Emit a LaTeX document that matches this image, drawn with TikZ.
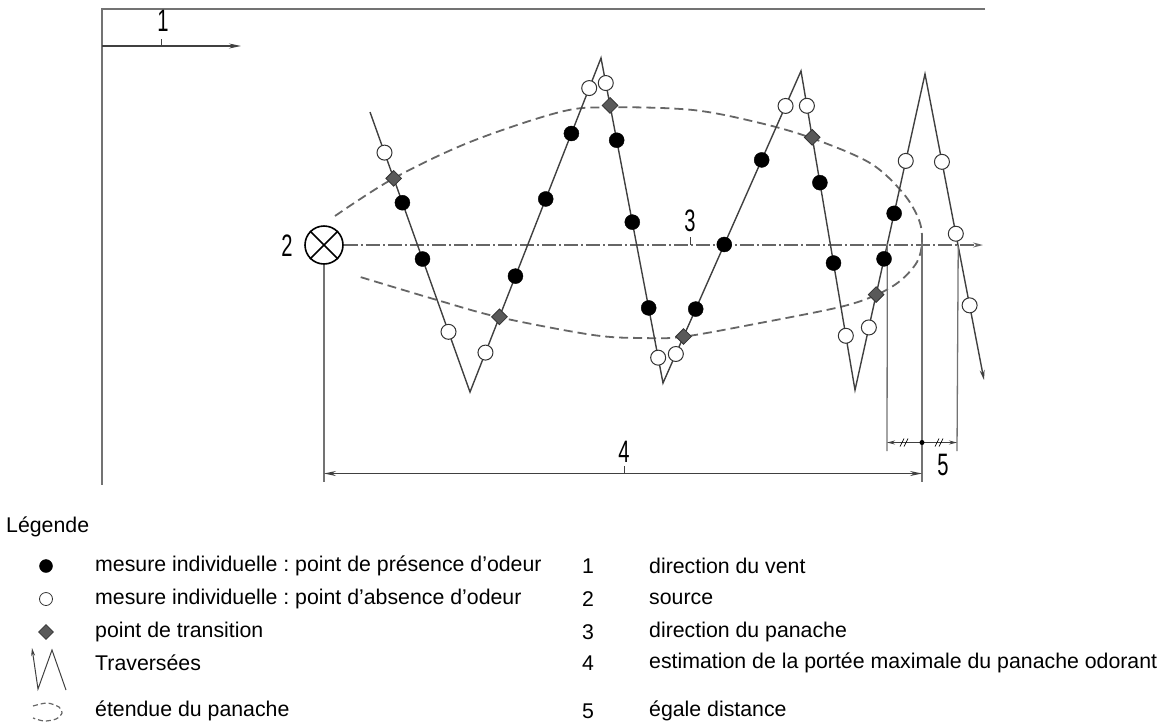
\documentclass[tikz,border=0pt]{standalone}
\usepackage{fontspec}
\setmainfont{Liberation Sans}
\usetikzlibrary{calc,shapes.geometric,arrows.meta}
\tikzset{
  odeur/.style={circle, fill=black, draw=black, inner sep=0pt, minimum size=15pt},
  sansodeur/.style={circle, fill=white, draw=black!80, line width=1pt, inner sep=0pt, minimum size=15pt},
  transit/.style={diamond, fill=black!65, draw=black!80, line width=0.8pt, inner sep=0pt, minimum size=16pt},
  repere/.style={font=\fontsize{31}{31}\selectfont, xscale=0.65, inner sep=0pt},
  legtxt/.style={font=\fontsize{21.3}{25}\selectfont, anchor=west, inner sep=0pt},
  cadre/.style={draw=black!55, line width=1.3pt},
  cote/.style={draw=black!75, line width=1.2pt},
  trav/.style={draw=black!75, line width=1.4pt},
  panache/.style={draw=black!60, line width=1.8pt, dash pattern=on 9pt off 5pt},
  axe/.style={draw=black!60, line width=1.4pt, dash pattern=on 14pt off 3pt on 2pt off 3pt},
}
\frenchspacing
\begin{document}
\begin{tikzpicture}[x=1pt, y=-1pt, >={Stealth[length=12pt,width=5pt]}]
  \useasboundingbox (0,0) rectangle (1164,724);

  % 1. cadre et direction du vent
  \coordinate (c0) at (102,9);
  \coordinate (c1) at (985,9);
  \coordinate (c2) at (102,485);
  \draw[cadre] (c1) -- (c0) -- (c2);
  \coordinate (v0) at (102,46);
  \coordinate (v1) at (241,46);
  \draw[cote, ->] (v0) -- (v1);
  \node[repere] (l1) at (163,21) {1};
  \draw[cote, line width=0.8pt] (161,39) -- (161,46);

  % 2. source et axe du panache
  \node[circle, draw=black, line width=1.6pt, minimum size=38pt, inner sep=0pt] (src) at (324,245) {};
  \draw[line width=1.6pt] (src.45) -- (src.225) (src.135) -- (src.-45);
  \node[repere] (l2) at (287,246) {2};
  \coordinate (a1) at (983,245);
  \draw[axe, -{Stealth[length=10pt,width=5pt]}] (src.east) -- (a1);
  \node[repere] (l3) at (690,221) {3};
  \draw[cote, line width=0.8pt] (690,237) -- (690,245);

  % 3. etendue du panache
  \draw[panache] plot[smooth, tension=0.55] coordinates {
    (335,216) (393.7,178.3) (470,142) (560,112) (610,107.3) (693,110) (760,123)
    (812.3,138.3) (870,163) (903,193) (919,220) (922,242) (917,262) (900,281)
    (876.1,295) (840,307) (760,323) (683.5,336.7) (643,338) (593,335)
    (499.5,317.3) (437,300) (357,276)};

  % 4. traversees
  \coordinate (zS) at (370,112);
  \coordinate (zB1) at (470,392);
  \coordinate (zT1) at (601,58);
  \coordinate (zB2) at (663,383);
  \coordinate (zT2) at (801,71);
  \coordinate (zB3) at (855,390);
  \coordinate (zT3) at (925,74);
  \coordinate (zE) at (984,380);
  \draw[trav, -{Stealth[length=10pt,width=5pt]}] (zS) -- (zB1) -- (zT1) -- (zB2) -- (zT2)
    -- (zB3) -- (zT3) -- (zE);

  % 5. cotes
  \coordinate (d1) at (324,482);
  \draw[cadre] (src.south) -- (d1);
  \coordinate (e1) at ($(zB3)!0.462!(zT3)$);
  \coordinate (e2) at (922,242);
  \coordinate (e3) at ($(zT3)!0.563!(zE)$);
  \draw[cadre] (e1) -- (887,451);
  \draw[cadre] (e2) -- (922,482);
  \draw[cadre] (e3) -- (957,451);
  \draw[cote, <->] (324,473.5) -- (922,473.5);
  \node[repere] (l4) at (624,452) {4};
  \draw[cote, line width=0.8pt] (624,466) -- (624,473.5);
  \coordinate (m5) at (922,442.5);
  \draw[cote, ->, >={Stealth[length=8pt,width=4pt]}] (m5) -- (887,442.5);
  \draw[cote, ->, >={Stealth[length=8pt,width=4pt]}] (m5) -- (957,442.5);
  \fill (m5) circle (2.5pt);
  \foreach \h in {902,906,937,941}
    \draw[line width=0.7pt] (\h-2,446.5) -- (\h+2,438.5);
  \node[repere] (l5) at (943,465) {5};

  % 6. mesures
  \foreach \a/\b/\t/\st [count=\i] in {
      zS/zB1/0.145/sansodeur, zS/zB1/0.324/odeur, zS/zB1/0.525/odeur, zS/zB1/0.785/sansodeur,
      zB1/zT1/0.118/sansodeur, zB1/zT1/0.347/odeur, zB1/zT1/0.578/odeur, zB1/zT1/0.774/odeur, zB1/zT1/0.910/sansodeur,
      zT1/zB2/0.077/sansodeur, zT1/zB2/0.253/odeur, zT1/zB2/0.505/odeur, zT1/zB2/0.769/odeur, zT1/zB2/0.922/sansodeur,
      zB2/zT2/0.093/sansodeur, zB2/zT2/0.237/odeur, zB2/zT2/0.444/odeur, zB2/zT2/0.715/odeur, zB2/zT2/0.888/sansodeur,
      zT2/zB3/0.109/sansodeur, zT2/zB3/0.350/odeur, zT2/zB3/0.602/odeur, zT2/zB3/0.830/sansodeur,
      zB3/zT3/0.198/sansodeur, zB3/zT3/0.415/odeur, zB3/zT3/0.559/odeur, zB3/zT3/0.725/sansodeur,
      zT3/zE/0.287/sansodeur, zT3/zE/0.522/sansodeur, zT3/zE/0.756/sansodeur}
    \node[\st] (p\i) at ($(\a)!\t!(\b)$) {};
  \foreach \a/\b/\t [count=\i] in {zS/zB1/0.237, zB1/zT1/0.225, zT1/zB2/0.146,
      zB2/zT2/0.149, zT2/zB3/0.208, zB3/zT3/0.302}
    \node[transit] (q\i) at ($(\a)!\t!(\b)$) {};

  % 7. legende
  \node[legtxt] (leg) at (6,527) {Légende};
  \node[odeur, minimum size=13pt] (s1) at (46,566) {};
  \node[sansodeur, minimum size=13pt, line width=0.8pt] (s2) at (46,599) {};
  \node[transit, minimum size=15pt] (s3) at (46,632) {};
  \coordinate (t0) at (66,690);
  \coordinate (t1) at (52,650);
  \coordinate (t2) at (38,689);
  \coordinate (t3) at (32,648);
  \draw[trav, line width=1pt, -{Stealth[length=8pt,width=4pt]}] (t0) -- (t1) -- (t2) -- (t3);
  \draw[panache, line width=1.2pt, dash pattern=on 5pt off 3pt] plot[smooth] coordinates {
    (33,706) (47,703) (59,707) (62,713) (56,719) (44,721) (33,718)};
  \node[legtxt] (g1) at (95,566) {mesure individuelle : point de présence d’odeur};
  \node[legtxt] (g2) at (95,599) {mesure individuelle : point d’absence d’odeur};
  \node[legtxt] (g3) at (95,632) {point de transition};
  \node[legtxt] (g4) at (95,663) {Traversées};
  \node[legtxt] (g5) at (95,711) {étendue du panache};
  \foreach \n/\y/\txt in {1/566/direction du vent, 2/599/source, 3/632/direction du panache,
      4/663/estimation de la portée maximale du panache odorant, 5/711/égale distance} {
    \node[legtxt] (n\n) at (582,\y) {\n};
    \node[legtxt] (r\n) at (649,\y) {\txt};
  }
\end{tikzpicture}
\end{document}
